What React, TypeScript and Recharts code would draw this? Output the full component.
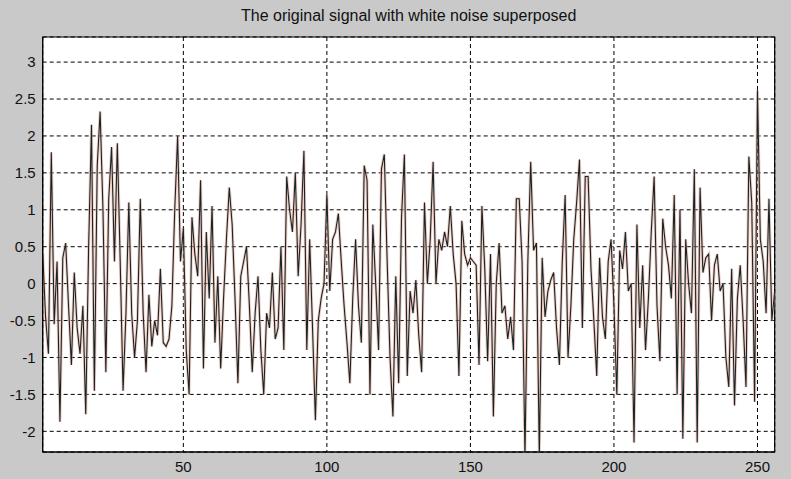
import React from 'react';
import { LineChart, Line, XAxis, YAxis, CartesianGrid, ReferenceArea } from 'recharts';

const TITLE = 'The original signal with white noise superposed';

// noisy signal, one value per sample (1..256)
const signal = [
  0.42, -0.45, -0.95, 1.78, -0.55, 0.3, -1.87, 0.35, 0.55, -0.3, -1.1, 0.15, -0.6, -0.95, -0.3, -1.77,
  0.5, 2.15, -1.45, 1.6, 2.33, 1.0, -1.2, 1.15, 1.85, 0.3, 1.9, 0.3, -1.45, -0.4, 1.1, -0.4,
  -1.0, -0.5, 1.15, -0.4, -1.2, -0.15, -0.85, -0.5, -0.7, 0.2, -0.8, -0.85, -0.75, -0.3, 1.0, 2.0,
  0.3, 0.75, -0.9, -1.5, 0.9, 0.4, 0.1, 1.4, -1.15, 0.7, -0.2, 1.05, -0.8, 0.1, -1.15, -0.2,
  0.6, 1.3, 0.8, -0.2, -1.35, 0.1, 0.3, 0.5, -0.3, -1.2, -0.4, 0.1, -0.9, -1.5, -0.4, -0.6,
  0.15, -0.75, -0.6, 0.5, -0.9, 1.45, 1.0, 0.7, 1.5, 0.1, 0.8, 1.8, -0.9, 0.6, -0.6, -1.85,
  -0.5, -0.2, 0.0, 1.2, -0.1, 0.6, 0.7, 0.95, 0.3, -0.3, -0.8, -1.35, -0.2, 0.6, -0.3, -0.8,
  1.6, 1.4, -1.5, 0.8, 0.0, -0.9, 1.55, 1.75, 0.3, -1.0, -1.8, 0.1, -1.35, 0.9, 1.75, -1.25,
  -0.1, -0.4, 0.05, -0.7, -1.2, 1.1, 0.0, 0.6, 1.65, 0.0, 0.6, 0.45, 0.7, 0.5, 1.05, 0.4,
  0.0, -1.25, 0.85, 0.4, 0.25, 0.35, 0.3, 0.25, -1.1, 1.05, 0.2, -1.05, 0.4, -1.8, 0.0, 0.55,
  -0.4, -0.3, -0.75, -0.45, -0.9, 1.15, 1.15, 0.3, -2.35, 0.3, 1.65, 0.45, 0.55, -2.35, 0.35, -0.45,
  -0.1, 0.05, 0.15, -0.6, -1.1, 0.3, 1.2, -1.0, -0.3, 0.6, 1.1, 1.68, -0.6, 1.45, 1.45, 0.2,
  -0.5, -1.25, 0.35, -0.45, -0.75, 0.3, 0.6, -0.3, -1.5, 0.45, 0.2, 0.7, -0.1, 0.0, -2.15, 0.8,
  -0.6, 0.25, -0.9, -0.2, 0.7, 1.45, -0.3, -1.05, 0.88, 0.5, 0.25, -0.2, 1.2, -1.5, 1.0, -2.1,
  0.6, 0.0, -0.4, 1.55, -2.15, 1.3, 0.15, 0.35, 0.4, -0.5, 0.25, 0.4, -0.1, 0.0, -1.0, -1.4,
  0.2, -1.65, -0.2, 0.25, -0.5, -1.4, 1.72, 1.1, -1.6, 2.62, 0.6, 0.3, -0.4, 1.15, -0.5, -0.1,
];

const xTicks = [50, 100, 150, 200, 250];
const yTicks = [-2, -1.5, -1, -0.5, 0, 0.5, 1, 1.5, 2, 2.5, 3];
const X_DOMAIN: [number, number] = [1, 256];
const Y_DOMAIN: [number, number] = [-2.28, 3.34];

const data = signal.map((v, i) => ({ n: i + 1, v }));

const FONT = '"Liberation Sans", Arial, sans-serif';

export default function App() {
  return (
    <div
      style={{
        position: 'absolute',
        left: 0,
        top: 0,
        width: 791,
        height: 479,
        background: '#c9c9c9',
        fontFamily: FONT,
      }}
    >
      <div
        style={{
          position: 'absolute',
          left: 42.7,
          width: 732,
          top: 7,
          textAlign: 'center',
          fontSize: 16,
          color: '#111',
        }}
      >
        {TITLE}
      </div>
      <LineChart
        width={791}
        height={479}
        data={data}
        margin={{ top: 37, right: 16.3, bottom: 2, left: 2.7 }}
      >
        <CartesianGrid fill="#ffffff" stroke="#000" strokeDasharray="4 3" strokeWidth={1} />
        <XAxis
          dataKey="n"
          type="number"
          domain={X_DOMAIN}
          ticks={xTicks}
          height={25}
          axisLine={{ stroke: '#000' }}
          tickLine={false}
          tickSize={0}
          tickMargin={9}
          tick={{ fill: '#111', fontSize: 15, fontFamily: FONT }}
          allowDataOverflow
        />
        <YAxis
          type="number"
          domain={Y_DOMAIN}
          ticks={yTicks}
          width={40}
          axisLine={{ stroke: '#000' }}
          tickLine={false}
          tickSize={0}
          tickMargin={7}
          tick={{ fill: '#111', fontSize: 15, fontFamily: FONT }}
          allowDataOverflow
        />
        <ReferenceArea
          x1={X_DOMAIN[0]}
          x2={X_DOMAIN[1]}
          y1={Y_DOMAIN[0]}
          y2={Y_DOMAIN[1]}
          fill="none"
          stroke="#000"
          strokeWidth={1.2}
        />
        <Line
          dataKey="v"
          stroke="#e9a58f"
          strokeWidth={3}
          strokeOpacity={0.55}
          dot={false}
          isAnimationActive={false}
        />
        <Line
          dataKey="v"
          stroke="#14262b"
          strokeWidth={1.1}
          dot={false}
          isAnimationActive={false}
        />
      </LineChart>
    </div>
  );
}
